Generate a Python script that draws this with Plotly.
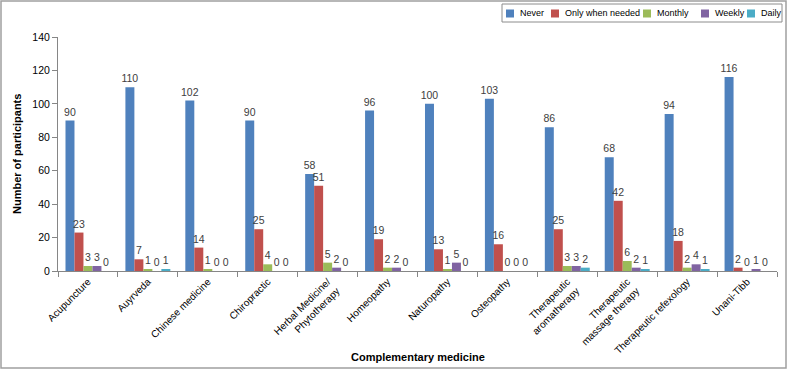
import plotly.graph_objects as go

categories = ["Acupuncture", "Auyrveda", "Chinese medicine", "Chiropractic",
              "Herbal Medicine/<br>Phytotherapy", "Homeopathy", "Naturopathy",
              "Osteopathy", "Therapeutic<br>aromatherapy", "Therapeutic<br>massage therapy",
              "Therapeutic refexology", "Unani-Tibb"]
never = [90, 110, 102, 90, 58, 96, 100, 103, 86, 68, 94, 116]
only_when_needed = [23, 7, 14, 25, 51, 19, 13, 16, 25, 42, 18, 2]
monthly = [3, 1, 1, 4, 5, 2, 1, 0, 3, 6, 2, 0]
weekly = [3, 0, 0, 0, 2, 2, 5, 0, 3, 2, 4, 1]
daily = [0, 1, 0, 0, 0, 0, 0, 0, 2, 1, 1, 0]

series_names = ["Never", "Only when needed", "Monthly", "Weekly", "Daily"]
series_values = [never, only_when_needed, monthly, weekly, daily]
series_colors = ["#4F81BD", "#C0504D", "#9BBB59", "#8064A2", "#4BACC6"]

FONT = "Liberation Sans"
W, H = 787, 369
ml, mr, mt, mb = 58, 10, 37, 98
pw, ph = W - ml - mr, H - mt - mb


def px_x(px):
    return (px - ml) / pw


def px_y(py):
    return (H - mb - py) / ph


fig = go.Figure()
for name, vals, col in zip(series_names, series_values, series_colors):
    fig.add_trace(go.Bar(
        x=categories, y=vals, name=name, marker=dict(color=col, line=dict(width=0)),
        text=[str(v) for v in vals], textposition="outside", constraintext="none",
        cliponaxis=False, textfont=dict(family=FONT, size=10.5, color="#404040"),
        showlegend=False, hoverinfo="skip",
    ))

# manual legend (box, swatches, labels)
legend_swatch_px = [506, 551, 643, 701, 747]
shapes = [dict(type="rect", xref="paper", yref="paper",
               x0=-(ml - 1) / pw, x1=1 + (mr - 1) / pw,
               y0=-(mb - 1) / ph, y1=1 + (mt - 1) / ph,
               line=dict(color="#A0A0A0", width=1.5)),
          dict(type="rect", xref="paper", yref="paper",
               x0=px_x(502), x1=px_x(782), y0=px_y(22), y1=px_y(4),
               line=dict(color="#8C8C8C", width=1), fillcolor="white")]
annotations = []
for sx, name, col in zip(legend_swatch_px, series_names, series_colors):
    shapes.append(dict(type="rect", xref="paper", yref="paper",
                       x0=px_x(sx), x1=px_x(sx + 8), y0=px_y(17.5), y1=px_y(9.5),
                       line=dict(width=0), fillcolor=col))
    annotations.append(dict(xref="paper", yref="paper", x=px_x(sx + 12), y=px_y(13.5),
                            xanchor="left", yanchor="middle", showarrow=False,
                            text=name, font=dict(family=FONT, size=9, color="#000")))
annotations.append(dict(xref="paper", yref="paper", x=0.5, y=px_y(357),
                        xanchor="center", yanchor="middle", showarrow=False,
                        text="<b>Complementary medicine</b>",
                        font=dict(family=FONT, size=11, color="#000")))
annotations.append(dict(xref="paper", yref="paper", x=px_x(17), y=px_y(154),
                        xanchor="center", yanchor="middle", showarrow=False, textangle=-90,
                        text="<b>Number of participants</b>",
                        font=dict(family=FONT, size=11, color="#000")))

fig.update_layout(
    width=W, height=H, barmode="group", bargap=0.25, bargroupgap=0,
    margin=dict(l=ml, r=mr, t=mt, b=mb, autoexpand=False),
    paper_bgcolor="white", plot_bgcolor="white",
    font=dict(family=FONT, size=10, color="#000000"),
    showlegend=False,
    xaxis=dict(tickangle=-45, showline=True, linecolor="#868686", linewidth=1,
               ticks="outside", tickson="boundaries", ticklen=5, tickcolor="#868686",
               tickfont=dict(size=10, color="#000"), automargin=False),
    yaxis=dict(range=[0, 140], dtick=20, showgrid=False, zeroline=False, showline=True,
               linecolor="#868686", linewidth=1, ticks="outside", ticklen=5, tickcolor="#868686",
               tickfont=dict(size=10.5, color="#000"), automargin=False),
    shapes=shapes, annotations=annotations,
)
fig.write_html("out.html", config={"displayModeBar": False},
               post_script="document.body.style.margin='0';document.body.style.overflow='hidden';")
